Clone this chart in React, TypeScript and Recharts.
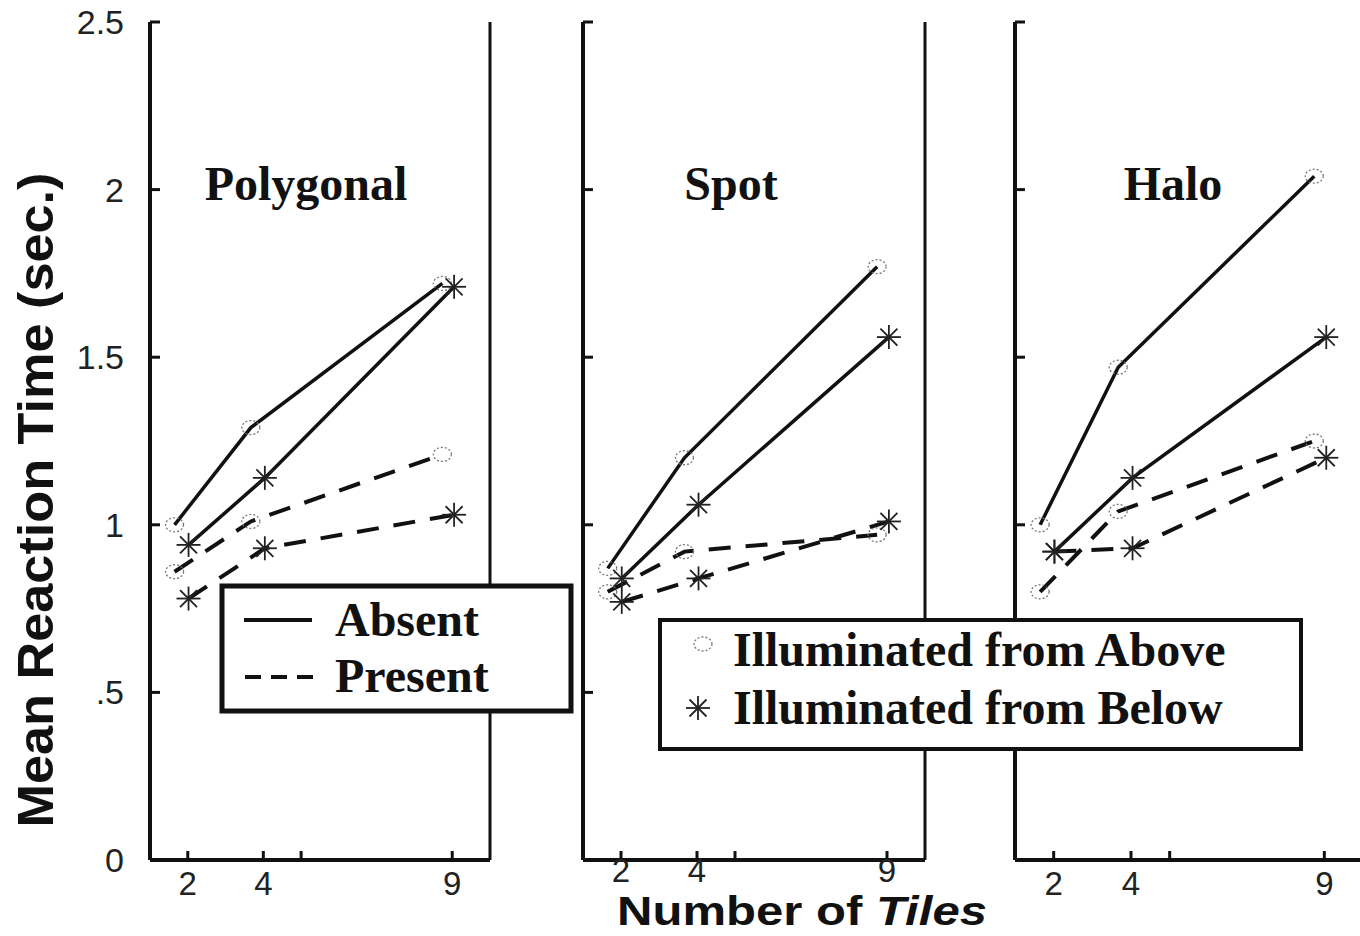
import { LineChart, Line, XAxis, YAxis, ReferenceLine } from "recharts";

// x axis: number of tiles
const tileTicks = [2, 4, 5, 9];
const tileLabels = ["2", "4", "", "9"];
// the two illumination conditions are drawn a little apart on x
const aboveTiles = [1.65, 3.67, 8.74];
const belowTiles = [2.02, 4.04, 9.05];

// y axis: mean reaction time (sec.)
const rtTicks = [0, 0.5, 1, 1.5, 2, 2.5];
const rtLabels = ["0", ".5", "1", "1.5", "2", "2.5"];

// Polygonal
const polyAbsentAbove = [1.0, 1.29, 1.72];
const polyAbsentBelow = [0.94, 1.14, 1.71];
const polyPresentAbove = [0.86, 1.01, 1.21];
const polyPresentBelow = [0.78, 0.93, 1.03];

// Spot
const spotAbsentAbove = [0.87, 1.2, 1.77];
const spotAbsentBelow = [0.84, 1.06, 1.56];
const spotPresentAbove = [0.8, 0.92, 0.97];
const spotPresentBelow = [0.77, 0.84, 1.01];

// Halo
const haloAbsentAbove = [1.0, 1.47, 2.04];
const haloAbsentBelow = [0.92, 1.14, 1.56];
const haloPresentAbove = [0.8, 1.04, 1.25];
const haloPresentBelow = [0.92, 0.93, 1.2];

const INK = "#111";
const SANS = "'Liberation Sans', Arial, Helvetica, sans-serif";
const SERIF = "'Liberation Serif', 'Times New Roman', serif";

function toPoints(xs: number[], ys: number[]) {
  return xs.map((x, i) => ({ x, y: ys[i] }));
}

function AboveDot({ cx, cy }: { cx?: number; cy?: number }) {
  if (cx == null || cy == null) return null;
  return (
    <ellipse cx={cx} cy={cy} rx={9} ry={7} fill="none" stroke="#777"
      strokeWidth={1.3} strokeDasharray="2 2" />
  );
}

function BelowDot({ cx, cy }: { cx?: number; cy?: number }) {
  if (cx == null || cy == null) return null;
  const r = 12;
  const d = 8.5;
  return (
    <g stroke="#222" strokeWidth={1.8}>
      <line x1={cx - r} y1={cy} x2={cx + r} y2={cy} />
      <line x1={cx} y1={cy - r} x2={cx} y2={cy + r} />
      <line x1={cx - d} y1={cy - d} x2={cx + d} y2={cy + d} />
      <line x1={cx - d} y1={cy + d} x2={cx + d} y2={cy - d} />
    </g>
  );
}

function makeXTick(drop: number) {
  return (props: any) => {
    const { x, y, payload } = props;
    const label = tileLabels[tileTicks.indexOf(payload.value)];
    return (
      <g>
        <line x1={x} y1={y} x2={x} y2={y - 9} stroke={INK} strokeWidth={3} />
        <text x={x} y={y + drop} textAnchor="middle" fontFamily={SANS} fontSize={33} fill="#222">
          {label}
        </text>
      </g>
    );
  };
}

function makeYTick(showLabel: boolean) {
  return (props: any) => {
    const { x, y, payload } = props;
    const label = rtLabels[rtTicks.indexOf(payload.value)];
    return (
      <g>
        <line x1={x} y1={y} x2={x + 10} y2={y} stroke={INK} strokeWidth={3} />
        {showLabel && (
          <text x={x - 26} y={y + 12} textAnchor="end" fontFamily={SANS} fontSize={34} fill="#222">
            {label}
          </text>
        )}
      </g>
    );
  };
}

interface PanelProps {
  left: number;
  width: number;
  axisWidth: number;
  rightGap: number;
  showValues: boolean;
  labelDrop: number;
  absentAbove: number[];
  absentBelow: number[];
  presentAbove: number[];
  presentBelow: number[];
}

function Panel(p: PanelProps) {
  const series = [
    { id: "absAbove", xs: aboveTiles, ys: p.absentAbove, dashed: false, above: true },
    { id: "absBelow", xs: belowTiles, ys: p.absentBelow, dashed: false, above: false },
    { id: "preAbove", xs: aboveTiles, ys: p.presentAbove, dashed: true, above: true },
    { id: "preBelow", xs: belowTiles, ys: p.presentBelow, dashed: true, above: false },
  ];
  return (
    <div style={{ position: "absolute", left: p.left, top: 0 }}>
      <LineChart width={p.width} height={936}
        margin={{ top: 22, right: p.rightGap, bottom: 0, left: 0 }}>
        <XAxis type="number" dataKey="x" domain={[1, 10]} ticks={tileTicks} interval={0}
          height={76} tickSize={0} tickMargin={0} tickLine={false} tick={makeXTick(p.labelDrop)}
          axisLine={{ stroke: INK, strokeWidth: 4 }} allowDataOverflow />
        <YAxis type="number" domain={[0, 2.5]} ticks={rtTicks} interval={0}
          width={p.axisWidth} tickSize={0} tickMargin={0} tickLine={false}
          tick={makeYTick(p.showValues)} axisLine={{ stroke: INK, strokeWidth: 4 }} />
        <ReferenceLine x={10} stroke={INK} strokeWidth={3} />
        {series.map((s) => (
          <Line key={s.id} data={toPoints(s.xs, s.ys)} dataKey="y" type="linear"
            stroke={INK} strokeWidth={s.dashed ? 4 : 3.5}
            strokeDasharray={s.dashed ? "22 15" : undefined}
            dot={(d: any) =>
              s.above
                ? <AboveDot key={`${s.id}-${d.index}`} cx={d.cx} cy={d.cy} />
                : <BelowDot key={`${s.id}-${d.index}`} cx={d.cx} cy={d.cy} />}
            activeDot={false} isAnimationActive={false} />
        ))}
      </LineChart>
    </div>
  );
}

export default function App() {
  return (
    <div style={{ position: "absolute", left: 0, top: 0, width: 1360, height: 936,
      background: "#fff", overflow: "hidden" }}>
      <Panel left={0} width={500} axisWidth={150} rightGap={10} showValues labelDrop={35}
        absentAbove={polyAbsentAbove} absentBelow={polyAbsentBelow}
        presentAbove={polyPresentAbove} presentBelow={polyPresentBelow} />
      <Panel left={543} width={392} axisWidth={40} rightGap={10} showValues={false} labelDrop={22}
        absentAbove={spotAbsentAbove} absentBelow={spotAbsentBelow}
        presentAbove={spotPresentAbove} presentBelow={spotPresentBelow} />
      <Panel left={975} width={400} axisWidth={40} rightGap={12} showValues={false} labelDrop={35}
        absentAbove={haloAbsentAbove} absentBelow={haloAbsentBelow}
        presentAbove={haloPresentAbove} presentBelow={haloPresentBelow} />

      <svg width={1360} height={936} style={{ position: "absolute", left: 0, top: 0 }}>
        {/* titles */}
        <g fontFamily={SERIF} fontWeight="bold" fontSize={48} fill={INK} textAnchor="middle">
          <text x={306} y={200}>Polygonal</text>
          <text x={731} y={200}>Spot</text>
          <text x={1173} y={200}>Halo</text>
        </g>
        <text x={53} y={500} transform="rotate(-90 53 500)" textAnchor="middle"
          fontFamily={SANS} fontWeight="bold" fontSize={50} fill={INK}
          textLength={655} lengthAdjust="spacingAndGlyphs">
          Mean Reaction Time (sec.)
        </text>
        <text x={802} y={925} textAnchor="middle" fontFamily={SANS} fontWeight="bold"
          fontSize={40} fill={INK} textLength={370} lengthAdjust="spacingAndGlyphs">
          Number of <tspan fontStyle="italic">Tiles</tspan>
        </text>

        {/* legend: target */}
        <rect x={222} y={586} width={349} height={125} fill="#fff" stroke={INK} strokeWidth={5} />
        <line x1={244} y1={620} x2={312} y2={620} stroke={INK} strokeWidth={4} />
        <line x1={245} y1={677} x2={313} y2={677} stroke={INK} strokeWidth={4} strokeDasharray="16 10" />
        <g fontFamily={SERIF} fontWeight="bold" fontSize={48} fill={INK}>
          <text x={335} y={636}>Absent</text>
          <text x={335} y={692}>Present</text>
        </g>

        {/* legend: illumination */}
        <rect x={660} y={620} width={641} height={129} fill="#fff" stroke={INK} strokeWidth={4} />
        <AboveDot cx={703} cy={644} />
        <BelowDot cx={698} cy={708} />
        <g fontFamily={SERIF} fontWeight="bold" fontSize={48} fill={INK}>
          <text x={733} y={666}>Illuminated from Above</text>
          <text x={733} y={724}>Illuminated from Below</text>
        </g>
      </svg>
    </div>
  );
}
